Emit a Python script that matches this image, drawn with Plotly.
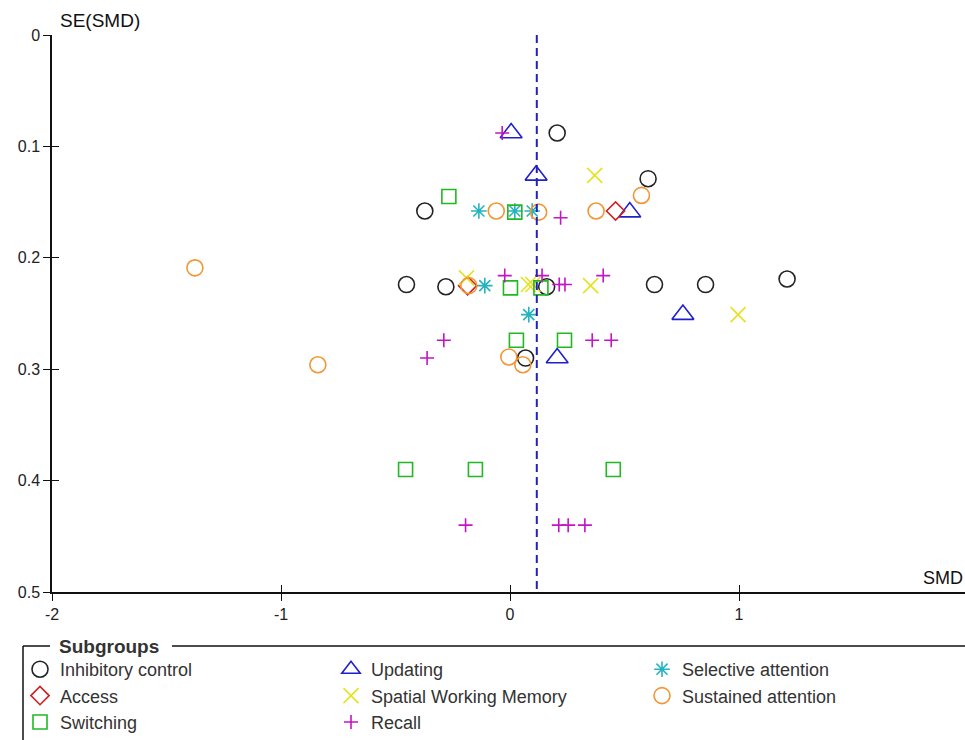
import plotly.graph_objects as go

# ---------------- data ----------------
groups = ["Inhibitory control", "Updating", "Selective attention",
          "Access", "Spatial Working Memory", "Sustained attention",
          "Switching", "Recall"]

inhib_x = [0.206, 0.603, -0.372, -0.452, -0.28, 0.16, 0.631, 0.854, 1.21, 0.068]
inhib_y = [0.088, 0.129, 0.158, 0.224, 0.226, 0.226, 0.224, 0.224, 0.219, 0.290]

upd_x = [0.005, 0.114, 0.523, 0.755, 0.206]
upd_y = [0.088, 0.126, 0.159, 0.251, 0.290]

sel_x = [-0.136, 0.021, 0.097, -0.11, 0.082]
sel_y = [0.158, 0.158, 0.158, 0.225, 0.251]

acc_x = [0.461, -0.185]
acc_y = [0.158, 0.225]

swm_x = [0.37, 0.352, 0.996, -0.19, 0.08, 0.10]
swm_y = [0.126, 0.225, 0.251, 0.218, 0.224, 0.224]

sus_x = [-1.376, -0.839, -0.06, 0.125, 0.376, 0.574, -0.005, 0.056, -0.18]
sus_y = [0.209, 0.296, 0.158, 0.159, 0.158, 0.144, 0.289, 0.296, 0.225]

swi_x = [-0.267, 0.021, 0.002, 0.135, 0.028, 0.238, -0.456, -0.151, 0.451]
swi_y = [0.145, 0.159, 0.227, 0.227, 0.274, 0.274, 0.390, 0.390, 0.390]

rec_x = [-0.034, 0.221, -0.023, 0.14, 0.215, 0.24, 0.407, -0.289, -0.362,
         0.359, 0.442, -0.194, 0.213, 0.254, 0.327]
rec_y = [0.088, 0.164, 0.216, 0.216, 0.224, 0.224, 0.216, 0.274, 0.290,
         0.274, 0.274, 0.440, 0.440, 0.440, 0.440]

pooled_smd = 0.117

x_ticks = [-2, -1, 0, 1, 2]
x_tick_labels = ["-2", "-1", "0", "1", "2"]
y_ticks = [0, 0.1, 0.2, 0.3, 0.4, 0.5]
y_tick_labels = ["0", "0.1", "0.2", "0.3", "0.4", "0.5"]

# ---------------- styles ----------------
series = [
    (groups[0], inhib_x, inhib_y, "circle-open", "#222222", 16),
    (groups[1], upd_x, upd_y, "triangle-up-open", "#1f1fcc", 19),
    (groups[2], sel_x, sel_y, "asterisk-open", "#25b3bf", 13),
    (groups[3], acc_x, acc_y, "diamond-open", "#cc2222", 14),
    (groups[4], swm_x, swm_y, "x-thin-open", "#e3e31e", 15),
    (groups[5], sus_x, sus_y, "circle-open", "#f39533", 16),
    (groups[6], swi_x, swi_y, "square-open", "#22b822", 14),
    (groups[7], rec_x, rec_y, "cross-thin-open", "#c414c4", 10),
]

W, H = 965, 740
ML, MR, MT, MB = 52, 0, 35, 148
PW, PH = W - ML - MR, H - MT - MB
PX_PER_UNIT = 229.0
x_range = [-2, -2 + PW / PX_PER_UNIT]
y_range = [0.5, 0]


def px_x(px):
    return (px - ML) / PW


def px_y(py):
    return (H - MB - py) / PH


FONT = "Liberation Sans, Arial, sans-serif"

fig = go.Figure()
for name, xs, ys, sym, col, size in series:
    fig.add_trace(go.Scatter(
        x=xs, y=ys, mode="markers", name=name,
        marker=dict(symbol=sym, size=size, color=col,
                    line=dict(color=col, width=1.6)),
    ))

# empty helper traces so that the secondary (inside-tick) axes are drawn
fig.add_trace(go.Scatter(x=[None], y=[None], xaxis="x2", yaxis="y",
                         mode="markers", showlegend=False, hoverinfo="skip"))
fig.add_trace(go.Scatter(x=[None], y=[None], xaxis="x", yaxis="y2",
                         mode="markers", showlegend=False, hoverinfo="skip"))

axis_common = dict(showgrid=False, zeroline=False, showline=True,
                   linecolor="#111111", tickcolor="#111111",
                   tickfont=dict(family=FONT, size=16, color="#222222"))

fig.update_layout(
    width=W, height=H,
    margin=dict(l=ML, r=MR, t=MT, b=MB, pad=0, autoexpand=False),
    paper_bgcolor="white", plot_bgcolor="white",
    xaxis=dict(range=x_range, tickvals=x_ticks, ticktext=x_tick_labels,
               ticks="outside", ticklen=7, linewidth=2, **axis_common),
    yaxis=dict(range=y_range, tickvals=y_ticks, ticktext=y_tick_labels,
               ticks="outside", ticklen=7, linewidth=1.5, **axis_common),
    xaxis2=dict(range=x_range, tickvals=x_ticks, ticks="inside", ticklen=7,
                overlaying="x", anchor="y", side="bottom",
                showticklabels=False, showgrid=False, zeroline=False,
                showline=False, tickcolor="#111111", tickwidth=1),
    yaxis2=dict(range=y_range, tickvals=y_ticks, ticks="inside", ticklen=7,
                overlaying="y", anchor="x", side="left",
                showticklabels=False, showgrid=False, zeroline=False,
                showline=False, tickcolor="#111111", tickwidth=1),
    showlegend=True,
    legend=dict(orientation="h", x=px_x(20), y=px_y(651),
                xanchor="left", yanchor="top",
                entrywidth=266, entrywidthmode="pixels",
                font=dict(family=FONT, size=18, color="#333333"),
                bgcolor="rgba(0,0,0,0)", borderwidth=0,
                traceorder="normal"),
)

# pooled estimate line
fig.add_shape(type="line", xref="x", yref="y",
              x0=pooled_smd, x1=pooled_smd, y0=y_range[1], y1=y_range[0],
              line=dict(color="#2222bb", width=2, dash="8px,5px"))

# axis titles
fig.add_annotation(text="SE(SMD)", xref="paper", yref="paper",
                   x=px_x(58), y=px_y(20), xanchor="left", yanchor="middle",
                   showarrow=False,
                   font=dict(family=FONT, size=19, color="#111111"))
fig.add_annotation(text="SMD", xref="paper", yref="paper",
                   x=px_x(921), y=px_y(578), xanchor="left", yanchor="middle",
                   showarrow=False,
                   font=dict(family=FONT, size=18, color="#111111"))

# legend group box
box_top = 646
fig.add_shape(type="line", xref="paper", yref="paper",
              x0=px_x(23), x1=px_x(23), y0=px_y(box_top), y1=px_y(760),
              line=dict(color="#111111", width=1.5))
fig.add_shape(type="line", xref="paper", yref="paper",
              x0=px_x(23), x1=px_x(50), y0=px_y(box_top), y1=px_y(box_top),
              line=dict(color="#111111", width=1.5))
fig.add_shape(type="line", xref="paper", yref="paper",
              x0=px_x(172), x1=px_x(980), y0=px_y(box_top), y1=px_y(box_top),
              line=dict(color="#111111", width=1.5))
fig.add_annotation(text="<b>Subgroups</b>", xref="paper", yref="paper",
                   x=px_x(57), y=px_y(box_top), xanchor="left",
                   yanchor="middle", showarrow=False,
                   font=dict(family=FONT, size=19, color="#333333"))

fig.write_html("out.html")
